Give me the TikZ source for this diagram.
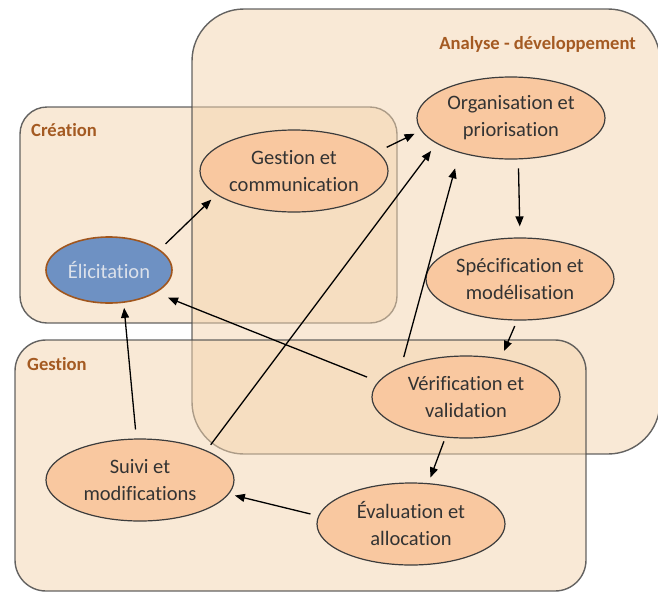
\documentclass[tikz,border=0pt]{standalone}
\usepackage{fontspec}
\setmainfont{Carlito}[Ligatures=NoCommon]
\usetikzlibrary{shapes.geometric,arrows.meta}
\definecolor{zonefill}{HTML}{F5D5AE}
\definecolor{zoneline}{HTML}{4A4A4A}
\definecolor{zonelabel}{HTML}{A45A22}
\definecolor{stepfill}{HTML}{F9C8A0}
\definecolor{stepline}{HTML}{3C3C3C}
\definecolor{steptext}{HTML}{333333}
\definecolor{elicfill}{HTML}{6E91C3}
\definecolor{elicline}{HTML}{A0561E}
\definecolor{elictext}{HTML}{DCE1EA}
\tikzset{
  zone/.style={draw=zoneline, line width=1.4pt, fill=zonefill, fill opacity=0.5, draw opacity=0.85},
  zonetitle/.style={text=zonelabel, font=\fontsize{18.6}{22}\selectfont\bfseries, inner sep=0pt},
  activity/.style={ellipse, draw=stepline, line width=1.2pt, fill=stepfill,
    minimum width=188pt, minimum height=82pt, inner sep=0pt, align=center,
    text=steptext, font=\fontsize{20.5}{27}\selectfont},
  startact/.style={activity, fill=elicfill, draw=elicline, line width=1.6pt,
    minimum width=126pt, minimum height=66pt, text=elictext},
  flow/.style={-{Triangle[length=10pt,width=8pt]}, line width=1.3pt, draw=black}
}
\begin{document}
\begin{tikzpicture}[x=1pt, y=-1pt]
  \useasboundingbox (0,0) rectangle (658,592);
  \fill[white] (0,0) rectangle (658,592);

  % the three zones, drawn bottom-up so later ones overlay earlier ones
  \draw[zone, rounded corners=27pt] (20,107) rectangle (397,323);
  \draw[zone, rounded corners=52pt] (192,9) rectangle (660,454);
  \draw[zone, rounded corners=31pt] (15,340) rectangle (586,591);

  \node[zonetitle, anchor=west] (tcreation) at (31,130) {Création};
  \node[zonetitle, anchor=east] (tanalyse) at (636,44) {Analyse - développement};
  \node[zonetitle, anchor=west] (tgestion) at (27,364) {Gestion};

  % activities
  \node[startact] (elic) at (109,270) {Élicitation};
  \node[activity] (gest) at (294,171) {Gestion et\\communication};
  \node[activity] (org)  at (511,118) {Organisation et\\priorisation};
  \node[activity] (spec) at (520,279) {Spécification et\\modélisation};
  \node[activity] (verif) at (466,397) {Vérification et\\validation};
  \node[activity] (eval) at (411,524) {Évaluation et\\allocation};
  \node[activity] (suivi) at (140,480) {Suivi et\\modifications};

  % flows between activities
  \draw[flow, shorten <=8pt, shorten >=7pt] (elic.22) -- (gest.197);
  \draw[flow, shorten <=10pt, shorten >=7pt] (gest.13) -- (org.188);
  \draw[flow, shorten <=7pt, shorten >=9pt] (suivi.24) -- (org.199.5);
  \draw[flow, shorten <=10pt, shorten >=16pt] (verif.155) -- (org.214);
  \draw[flow, shorten <=9pt, shorten >=11pt] (org.280) -- (spec.90);
  \draw[flow, shorten <=6pt, shorten >=8pt] (spec.266) -- (verif.48);
  \draw[flow, shorten <=12pt, shorten >=13pt] (verif.170) -- (elic.334.6);
  \draw[flow, shorten <=4pt, shorten >=6pt] (verif.243) -- (eval.67.6);
  \draw[flow, shorten <=8pt, shorten >=6pt] (eval.175.5) -- (suivi.351.6);
  \draw[flow, shorten <=9pt, shorten >=5pt] (suivi.95.7) -- (elic.294.7);
\end{tikzpicture}
\end{document}
